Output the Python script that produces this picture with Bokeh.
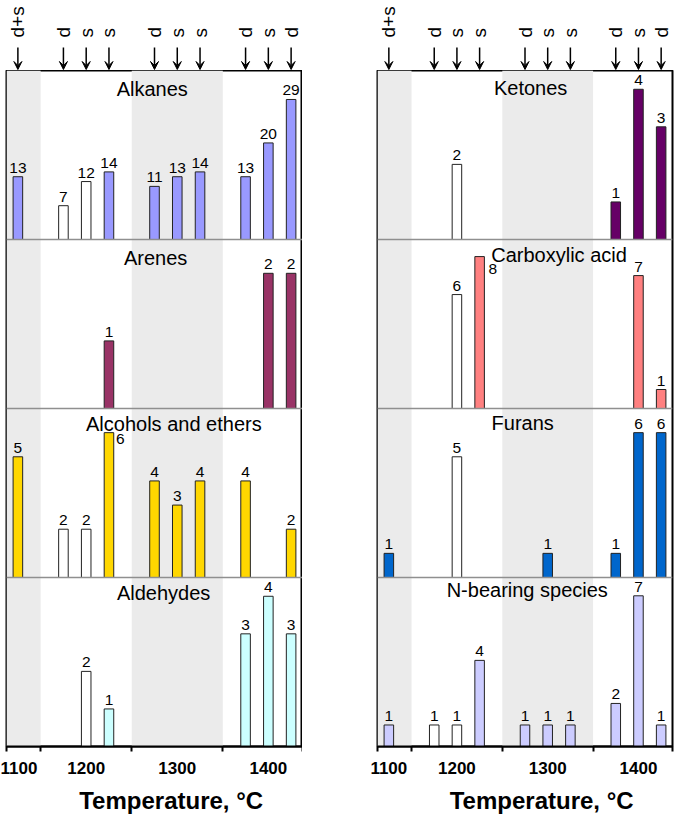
import math
from bokeh.plotting import figure
from bokeh.layouts import row, column
from bokeh.models import (Range1d, LinearAxis, FixedTicker, Span, ColumnDataSource,
                          Arrow, VeeHead)
from bokeh.core.properties import value
from bokeh.embed import file_html
from bokeh.resources import INLINE

# ---------------- data ----------------
temps = ["1100", "1200", "1200", "1200", "1300", "1300", "1300", "1400", "1400", "1400"]
modes = ["d+s", "d", "s", "s", "d", "s", "s", "d", "s", "d"]
open_bars = [False, True, True, False, False, False, False, False, False, False]

alkanes = [13, 7, 12, 14, 11, 13, 14, 13, 20, 29]
arenes = [0, 0, 0, 1, 0, 0, 0, 0, 2, 2]
alcohols = [5, 2, 2, 6, 4, 3, 4, 4, 0, 2]
aldehydes = [0, 0, 2, 1, 0, 0, 0, 3, 4, 3]

ketones = [0, 0, 2, 0, 0, 0, 0, 1, 4, 3]
carboxylic = [0, 0, 6, 8, 0, 0, 0, 0, 7, 1]
furans = [1, 0, 5, 0, 0, 1, 0, 1, 6, 6]
nbearing = [1, 1, 1, 4, 1, 1, 1, 2, 7, 1]

FONT = "Liberation Sans"
PANEL_H = 169
TOP_H = 70
NBSP = "\u00a0"

# slot positions derived from temperature grouping (one empty slot between groups)
xs = []
pos = 0
prev = None
for t in temps:
    if prev is not None:
        pos += 1 if t == prev else 2
    xs.append(pos)
    prev = t
groups = []
for t in temps:
    if t not in groups:
        groups.append(t)
centers = []
gspan = []
for g in groups:
    gx = [x for x, t in zip(xs, temps) if t == g]
    centers.append(sum(gx) / len(gx))
    gspan.append((min(gx), max(gx)))
x_lo, x_hi = xs[0] - 0.5, xs[-1] + 0.5
edges = [x_lo]
for i in range(len(groups) - 1):
    edges.append((gspan[i][1] + gspan[i + 1][0]) / 2)
edges.append(x_hi)


def make_column(panels, bl, fw, br):
    xr = Range1d(x_lo, x_hi)
    n = len(xs)

    top = figure(frame_width=fw, frame_height=TOP_H, x_range=xr,
                 y_range=Range1d(0, TOP_H), min_border_left=bl, min_border_right=br,
                 min_border_top=0, min_border_bottom=0, x_axis_location=None,
                 y_axis_location=None, toolbar_location=None, output_backend="svg",
                 outline_line_color=None)
    top.grid.visible = False
    asrc = ColumnDataSource(dict(x=xs, y0=[23] * n, y1=[1] * n, lab=modes, ly=[33] * n))
    top.add_layout(Arrow(end=VeeHead(size=8, fill_color="black", line_color="black", line_width=1),
                         x_start="x", y_start="y0", x_end="x", y_end="y1", source=asrc,
                         line_width=1.5, line_color="black"))
    top.text(x="x", y="ly", text="lab", angle=math.pi / 2, source=asrc,
             text_align="left", text_baseline="middle", text_font=value(FONT),
             text_font_size="19px", text_color="black")

    npan = len(panels)
    p = figure(frame_width=fw, frame_height=npan * PANEL_H, x_range=xr,
               y_range=Range1d(0, npan), min_border_left=bl, min_border_right=br,
               min_border_top=0, min_border_bottom=0, x_axis_location=None,
               y_axis_location=None, toolbar_location=None, output_backend="svg",
               outline_line_color="black", outline_line_width=2)
    p.grid.visible = False

    # shaded temperature bands
    bl_, br_ = [], []
    for i in range(0, len(groups), 2):
        bl_.append(edges[i])
        br_.append(edges[i + 1])
    p.quad(left=bl_, right=br_, bottom=0, top=npan, fill_color="#ebebeb", line_color=None)

    for k in range(1, npan):
        p.add_layout(Span(location=k, dimension="width", line_color="#8f8f8f", line_width=1.5))

    extra = {}
    for k, pn in enumerate(panels):
        ymax = pn["ymax"]
        extra[f"r{k}"] = Range1d(-(npan - 1 - k) * ymax, (k + 1) * ymax)
    p.extra_y_ranges = extra

    for k, pn in enumerate(panels):
        rn = f"r{k}"
        vals = pn["vals"]
        sel = [i for i, v in enumerate(vals) if v]
        src = ColumnDataSource(dict(
            x=[xs[i] for i in sel], top=[vals[i] for i in sel],
            fill=["white" if open_bars[i] else pn["color"] for i in sel]))
        p.vbar(x="x", top="top", bottom=0, width=0.42, fill_color="fill",
               line_color="#222222", line_width=1, source=src, y_range_name=rn)

        side = pn.get("side", {})
        norm = [i for i in sel if i not in side]
        lsrc = ColumnDataSource(dict(x=[xs[i] for i in norm], y=[vals[i] for i in norm],
                                     t=[str(vals[i]) for i in norm]))
        p.text(x="x", y="y", text="t", source=lsrc, y_range_name=rn, text_align="center",
               text_baseline="bottom", y_offset=-4, text_font=value(FONT),
               text_font_size="15.5px", text_color="black")
        for i, (xo, yo) in side.items():
            p.text(x=[xs[i]], y=[vals[i]], text=[str(vals[i])], y_range_name=rn,
                   text_align="left", text_baseline="top", x_offset=xo, y_offset=yo,
                   text_font=value(FONT), text_font_size="15.5px", text_color="black")

        p.text(x=[pn["tx"]], y=[npan - k], text=[pn["title"]], text_align="center",
               text_baseline="middle", y_offset=pn["ty"], text_font=value(FONT),
               text_font_size="20px", text_color="black")

    ax_t = LinearAxis(ticker=FixedTicker(ticks=edges, minor_ticks=[]),
                      major_label_overrides={e: "" for e in edges},
                      major_tick_out=5, major_tick_in=0, major_tick_line_width=2,
                      major_label_text_font_size="0px", major_label_standoff=0,
                      axis_line_width=2, minor_tick_out=0, minor_tick_in=0)
    ax_l = LinearAxis(ticker=FixedTicker(ticks=centers, minor_ticks=[]),
                      major_label_overrides={c: g for c, g in zip(centers, groups)},
                      major_tick_out=0, major_tick_in=0, major_tick_line_color=None,
                      axis_line_color=None, minor_tick_out=0, minor_tick_in=0,
                      major_label_standoff=10, major_label_text_font=FONT,
                      major_label_text_font_size="17px", major_label_text_font_style="bold",
                      major_label_text_color="black",
                      axis_label=NBSP * 5 + "Temperature, \u00b0C", axis_label_text_font=FONT,
                      axis_label_text_font_size="24px", axis_label_text_font_style="bold",
                      axis_label_text_color="black", axis_label_standoff=10)
    p.add_layout(ax_t, "below")
    p.add_layout(ax_l, "below")
    return column(top, p, spacing=0)


left_panels = [
    dict(title="Alkanes", vals=alkanes, ymax=35, color="#9999ff", tx=5.9, ty=18),
    dict(title="Arenes", vals=arenes, ymax=2.5, color="#993366", tx=6.05, ty=18),
    dict(title="Alcohols and ethers", vals=alcohols, ymax=7, color="#ffd700", tx=6.85, ty=15,
         side={3: (7, 1)}),
    dict(title="Aldehydes", vals=aldehydes, ymax=4.5, color="#ccffff", tx=6.4, ty=15),
]
right_panels = [
    dict(title="Ketones", vals=ketones, ymax=4.5, color="#660066", tx=6.25, ty=17),
    dict(title="Carboxylic acid", vals=carboxylic, ymax=8.9, color="#ff8080", tx=7.5, ty=15,
         side={3: (9, 7)}),
    dict(title="Furans", vals=furans, ymax=7, color="#0066cc", tx=5.9, ty=14),
    dict(title="N-bearing species", vals=nbearing, ymax=7.85, color="#ccccff", tx=6.1, ty=12),
]

layout = row(make_column(left_panels, 6, 296, 0), make_column(right_panels, 75, 295, 2),
             spacing=0)

open("out.html", "w").write(file_html(layout, INLINE))
